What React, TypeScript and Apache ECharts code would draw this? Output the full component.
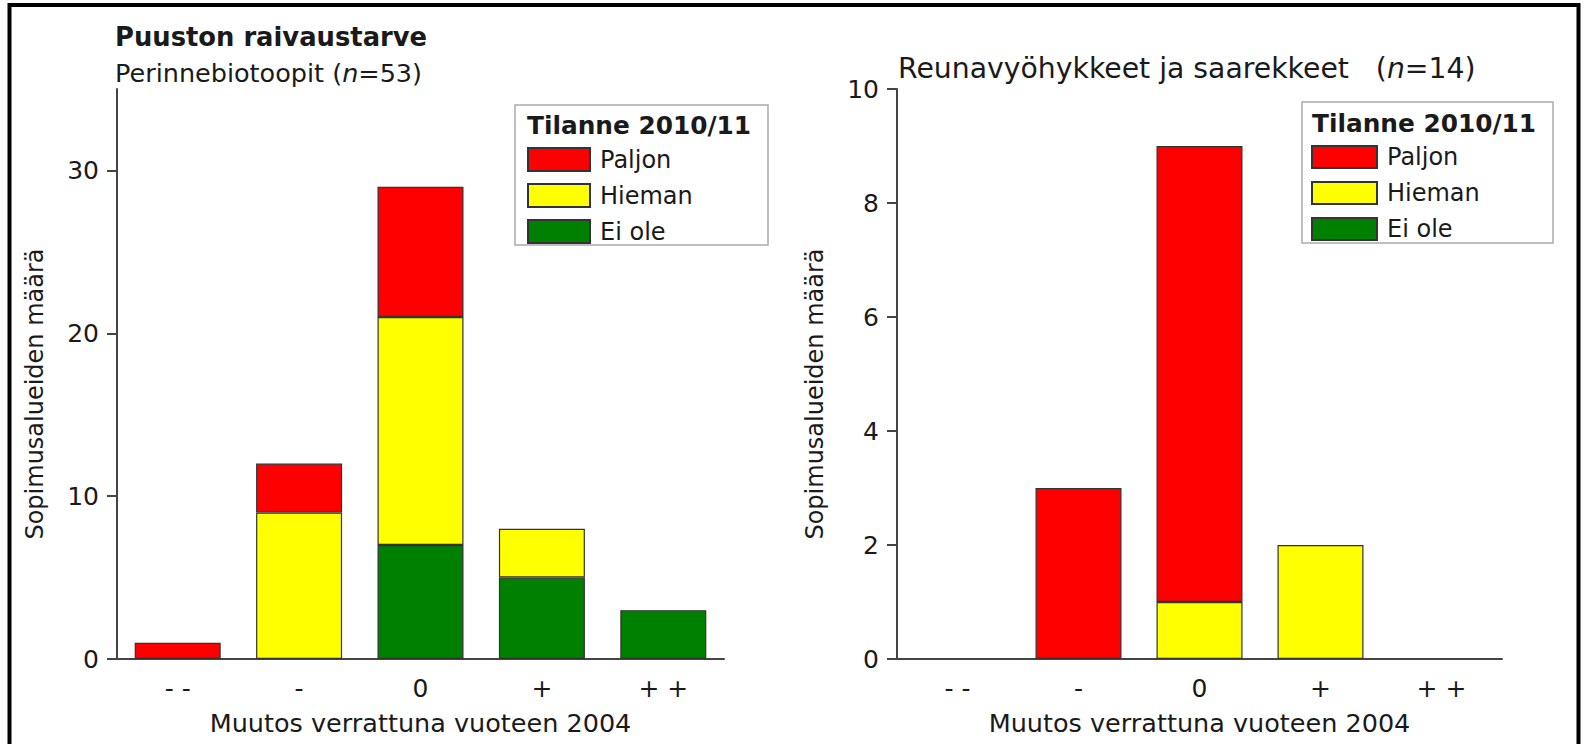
import React, { useEffect, useRef } from "react";
import * as echarts from "echarts";

const categories = ["- -", "-", "0", "+", "+ +"];
const seriesNames = ["Paljon", "Hieman", "Ei ole"];
const colors = ["#ff0000", "#ffff00", "#008000"];

// Left: Perinnebiotoopit (n=53)
const leftPaljon = [1, 3, 8, 0, 0];
const leftHieman = [0, 9, 14, 3, 0];
const leftEiOle = [0, 0, 7, 5, 3];
const leftTicks = [0, 10, 20, 30];

// Right: Reunavyöhykkeet ja saarekkeet (n=14)
const rightPaljon = [0, 3, 8, 0, 0];
const rightHieman = [0, 0, 1, 2, 0];
const rightEiOle = [0, 0, 0, 0, 0];
const rightTicks = [0, 2, 4, 6, 8, 10];

const FONT = "'DejaVu Sans', Verdana, sans-serif";
const TXT = "#1a1a1a";
const AXIS = "#444";

export default function App() {
  const ref = useRef<HTMLDivElement>(null);
  useEffect(() => {
    if (!ref.current) return;
    const chart = echarts.init(ref.current, undefined, { renderer: "svg" });
    const nz = (arr: number[]) => arr.map((v) => (v === 0 ? null : v));

    const xAxisBase = (gridIndex: number) => ({
      type: "category",
      gridIndex,
      data: categories,
      boundaryGap: true,
      axisLine: { lineStyle: { color: AXIS, width: 2 } },
      axisTick: { alignWithLabel: true, length: 9, lineStyle: { color: AXIS, width: 2 } },
      axisLabel: { color: TXT, fontSize: 25, fontFamily: FONT, margin: 17 },
      name: "Muutos verrattuna vuoteen 2004",
      nameLocation: "middle",
      nameGap: 51,
      nameTextStyle: { color: TXT, fontSize: 25.5, fontFamily: FONT },
    });
    const yAxisBase = (gridIndex: number, max: number, ticks: number[]) => ({
      type: "value",
      gridIndex,
      min: 0,
      max,
      splitLine: { show: false },
      axisLine: { show: true, lineStyle: { color: AXIS, width: 2 } },
      axisTick: { show: true, length: 10, customValues: ticks, lineStyle: { color: AXIS, width: 2 } },
      axisLabel: { color: TXT, fontSize: 25, fontFamily: FONT, margin: 18, customValues: ticks },
      name: "Sopimusalueiden määrä",
      nameLocation: "middle",
      nameGap: 70,
      nameTextStyle: { color: TXT, fontSize: 24, fontFamily: FONT, padding: [0, 40, 0, 0] },
    });

    const mk = (name: string, data: number[], idx: number, stack: string, color: string) => ({
      type: "bar",
      name,
      stack,
      xAxisIndex: idx,
      yAxisIndex: idx,
      data: nz(data),
      barWidth: 86,
      itemStyle: { color, borderColor: "#333", borderWidth: 1.2 },
    });

    const legendBase = (left: number, top: number, w: number, h: number, gap: number) => ({
      data: seriesNames,
      orient: "vertical",
      left,
      top,
      padding: 0,
      itemWidth: w,
      itemHeight: h,
      itemGap: gap,
      icon: "rect",
      selectedMode: false,
      textStyle: { color: TXT, fontSize: 24, fontFamily: FONT, padding: [0, 0, 0, 5] },
    });

    const text = (x: number, y: number, t: string, size: number, bold = false) => ({
      type: "text",
      x,
      y,
      style: {
        text: t,
        fontSize: size,
        fontFamily: FONT,
        fontWeight: bold ? "bold" : "normal",
        fill: TXT,
        align: "left",
        verticalAlign: "middle",
        rich: {
          i: { fontSize: size, fontFamily: FONT, fontStyle: "italic", fill: TXT },
        },
      },
    });

    chart.setOption({
      animation: false,
      backgroundColor: "#fff",
      grid: [
        { left: 117, top: 89, width: 607, height: 570, containLabel: false },
        { left: 897, top: 89, width: 605, height: 570, containLabel: false },
      ],
      xAxis: [xAxisBase(0), xAxisBase(1)],
      yAxis: [yAxisBase(0, 35, leftTicks), yAxisBase(1, 10, rightTicks)],
      legend: [legendBase(527, 147, 62, 23, 11), legendBase(1311, 145, 65, 22, 12)],
      series: [
        mk("Ei ole", leftEiOle, 0, "L", colors[2]),
        mk("Hieman", leftHieman, 0, "L", colors[1]),
        mk("Paljon", leftPaljon, 0, "L", colors[0]),
        mk("Ei ole", rightEiOle, 1, "R", colors[2]),
        mk("Hieman", rightHieman, 1, "R", colors[1]),
        mk("Paljon", rightPaljon, 1, "R", colors[0]),
      ],
      graphic: [
        {
          type: "rect",
          shape: { x: 9.5, y: 5, width: 1569, height: 800 },
          style: { fill: "none", stroke: "#000", lineWidth: 4 },
          silent: true,
        },
        {
          type: "rect",
          shape: { x: 515, y: 105, width: 253, height: 140 },
          style: { fill: "none", stroke: "#aaa", lineWidth: 1.5 },
          silent: true,
        },
        {
          type: "rect",
          shape: { x: 1302, y: 102, width: 251, height: 141 },
          style: { fill: "none", stroke: "#aaa", lineWidth: 1.5 },
          silent: true,
        },
        text(115, 37, "Puuston raivaustarve", 25.8, true),
        text(115, 72.5, "Perinnebiotoopit ({i|n}=53)", 25.5),
        text(898, 68.5, "Reunavyöhykkeet ja saarekkeet   ({i|n}=14)", 28.3),
        text(527, 125, "Tilanne 2010/11", 24.8, true),
        text(1312, 123.5, "Tilanne 2010/11", 24.8, true),
      ],
    });
    return () => chart.dispose();
  }, []);
  return (
    <div
      ref={ref}
      style={{ position: "absolute", left: 0, top: 0, width: 1585, height: 744 }}
    />
  );
}
